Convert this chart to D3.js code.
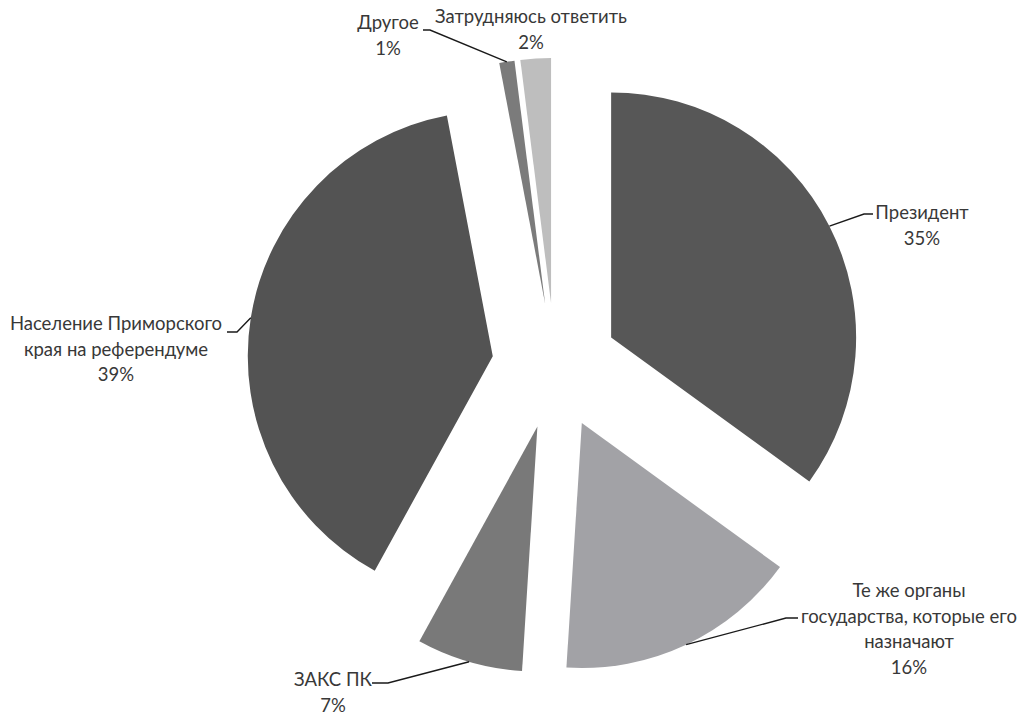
<!DOCTYPE html>
<html>
<head>
<meta charset="utf-8">
<script src="https://cdn.jsdelivr.net/npm/d3@7"></script>
<style>
  html, body { margin: 0; padding: 0; background: #fff; }
  svg { display: block; }
</style>
</head>
<body>
<svg id="chart" width="1030" height="716"></svg>
<script>
// ---- data ----
const categories = [
  "Президент",
  "Те же органы государства, которые его назначают",
  "ЗАКС ПК",
  "Население Приморского края на референдуме",
  "Другое",
  "Затрудняюсь ответить"
];
const values = [35, 16, 7, 39, 1, 2];
const labelLines = [
  ["Президент"],
  ["Те же органы", "государства, которые его", "назначают"],
  ["ЗАКС ПК"],
  ["Население Приморского", "края на референдуме"],
  ["Другое"],
  ["Затрудняюсь ответить"]
];
const colors = ["#575757", "#a2a2a6", "#797979", "#535353", "#7b7b7b", "#bebebe"];

// ---- layout ----
const W = 1030, H = 716;
const cx = 555, cy = 366, R = 245, explode = 63;
const lineH = 25.5;
const labelPos = [
  {x: 922, y: 219, leader: [[864, 214], [873, 214]]},
  {x: 909, y: 597, leader: [[786, 618], [798, 618]]},
  {x: 333, y: 686, leader: [[388, 683], [372, 683]]},
  {x: 116, y: 330, leader: [[237, 332], [227, 332]]},
  {x: 388, y: 29,  leader: [[430, 30], [423, 30]]},
  {x: 531, y: 23,  leader: null}
];

const svg = d3.select("#chart");
const g = svg.append("g").attr("transform", `translate(${cx},${cy})`);

const pie = d3.pie().sort(null).value(d => d).startAngle(0).endAngle(2 * Math.PI);
const arcs = pie(values);
const arc = d3.arc().innerRadius(0).outerRadius(R);

function offsetOf(d) {
  const a = (d.startAngle + d.endAngle) / 2;
  return [explode * Math.sin(a), -explode * Math.cos(a)];
}

g.selectAll("path.slice")
  .data(arcs)
  .join("path")
  .attr("class", "slice")
  .attr("d", arc)
  .attr("fill", (d, i) => colors[i])
  .attr("transform", d => { const o = offsetOf(d); return `translate(${o[0]},${o[1]})`; });

// leader lines
const line = d3.line();
arcs.forEach((d, i) => {
  const lp = labelPos[i];
  if (!lp.leader) return;
  const a = (d.startAngle + d.endAngle) / 2;
  const o = offsetOf(d);
  const outer = [cx + o[0] + R * Math.sin(a), cy + o[1] - R * Math.cos(a)];
  svg.append("path")
    .attr("d", line([outer, ...lp.leader]))
    .attr("fill", "none")
    .attr("stroke", "#1a1a1a")
    .attr("stroke-width", 1.4);
});

// labels
arcs.forEach((d, i) => {
  const lp = labelPos[i];
  const t = svg.append("text")
    .attr("text-anchor", "middle")
    .attr("font-family", "Lato, 'Open Sans', sans-serif")
    .attr("font-size", 18.5)
    .attr("fill", "#383838");
  const lines = [...labelLines[i], values[i] + "%"];
  lines.forEach((s, k) => {
    t.append("tspan").attr("x", lp.x).attr("y", lp.y + k * lineH).text(s);
  });
});
</script>
</body>
</html>
